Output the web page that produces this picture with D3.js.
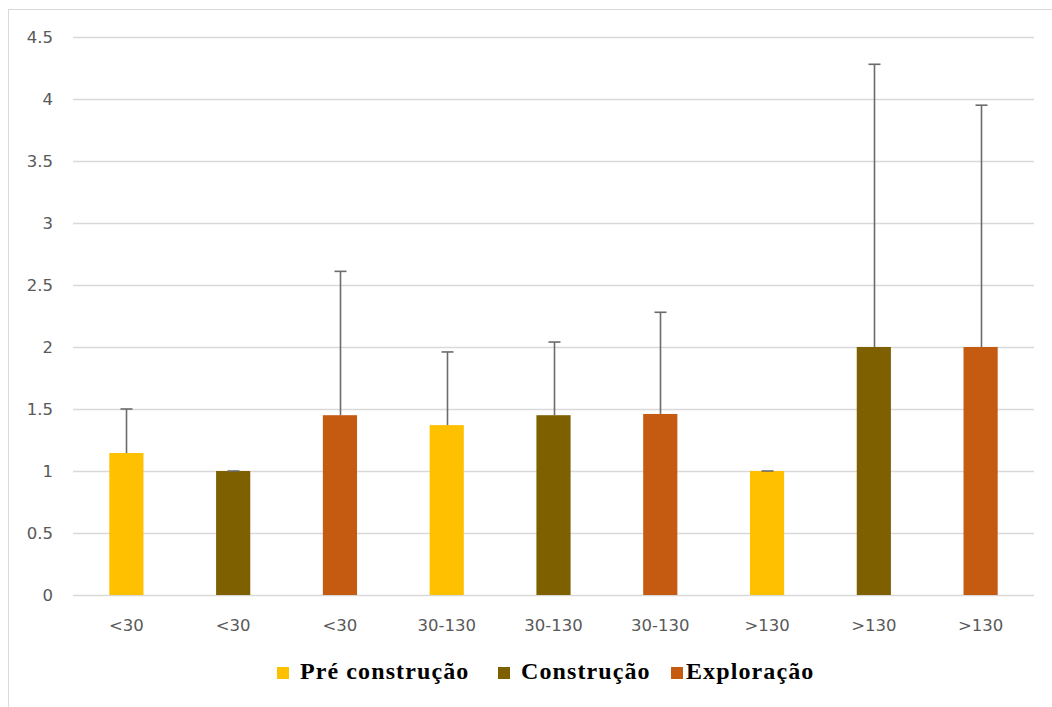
<!DOCTYPE html>
<html><head><meta charset="utf-8">
<script src="https://cdn.jsdelivr.net/npm/d3@7"></script>
<style>body{margin:0;background:#fff}svg{display:block}</style>
</head><body>
<svg id="chart" width="1052" height="707"></svg>
<script>
const categories = ["<30","<30","<30","30-130","30-130","30-130",">130",">130",">130"];
const seriesOf = ["Pré construção","Construção","Exploração","Pré construção","Construção","Exploração","Pré construção","Construção","Exploração"];
const values = [1.145, 1.0, 1.45, 1.37, 1.45, 1.46, 1.0, 2.0, 2.0];
const errorTops = [1.5, 1.0, 2.61, 1.96, 2.04, 2.28, 1.0, 4.28, 3.95];
const yTicks = [0, 0.5, 1, 1.5, 2, 2.5, 3, 3.5, 4, 4.5];
const seriesNames = ["Pré construção","Construção","Exploração"];
const seriesColors = ["#FFC000","#7F6000","#C55A11"];

const svg = d3.select("#chart");
const W = 1052, H = 707;
const plot = {left: 73, right: 1034, top: 37, bottom: 595};

// outer frame (top and left borders)
svg.append("line").attr("x1",8).attr("x2",W).attr("y1",9.5).attr("y2",9.5).attr("stroke","#d9d9d9");
svg.append("line").attr("x1",8.5).attr("x2",8.5).attr("y1",9).attr("y2",H).attr("stroke","#d9d9d9");

const x = d3.scaleBand().domain(d3.range(categories.length)).range([plot.left, plot.right]).paddingInner(0.68).paddingOuter(0.34);
const y = d3.scaleLinear().domain([0, 4.5]).range([plot.bottom, plot.top]);
const color = d3.scaleOrdinal().domain(seriesNames).range(seriesColors);

// gridlines
svg.append("g").selectAll("line").data(yTicks).join("line")
  .attr("x1", plot.left).attr("x2", plot.right)
  .attr("y1", d => Math.round(y(d)) + 0.5).attr("y2", d => Math.round(y(d)) + 0.5)
  .attr("stroke", "#d9d9d9").attr("stroke-width", 1.3);

const tickFont = "'DejaVu Sans', Verdana, sans-serif";

// y axis labels
const yAxis = d3.axisLeft(y).tickValues(yTicks).tickSize(0).tickPadding(0).tickFormat(d => String(d));
const gy = svg.append("g").attr("transform", `translate(53,0)`).call(yAxis);
gy.select(".domain").remove();
gy.selectAll("text").attr("fill","#595959").style("font-family",tickFont).style("font-size","16.5px");

// bars
svg.append("g").selectAll("rect").data(values).join("rect")
  .attr("x", (d,i) => x(i)).attr("width", x.bandwidth())
  .attr("y", d => y(d)).attr("height", d => y(0) - y(d))
  .attr("fill", (d,i) => color(seriesOf[i]));

// error bars
const eb = svg.append("g").attr("stroke","#6b6b6b").attr("stroke-width",1.6);
values.forEach((v,i) => {
  const cx = Math.round(x(i) + x.bandwidth()/2) + 0.5;
  eb.append("line").attr("x1",cx).attr("x2",cx).attr("y1",y(v)).attr("y2",y(errorTops[i]));
  eb.append("line").attr("x1",cx-6).attr("x2",cx+6).attr("y1",y(errorTops[i])).attr("y2",y(errorTops[i]));
});

// x axis labels
const xAxis = d3.axisBottom(x).tickSize(0).tickPadding(0).tickFormat(i => categories[i]);
const gx = svg.append("g").attr("transform", `translate(0,619)`).call(xAxis);
gx.select(".domain").remove();
gx.selectAll("text").attr("fill","#595959").style("font-family",tickFont).style("font-size","16.5px");

// legend
const legendItems = [{x:277},{x:498},{x:671}];
const lg = svg.append("g");
seriesNames.forEach((name,i) => {
  const g = lg.append("g").attr("transform", `translate(${legendItems[i].x},667)`);
  g.append("rect").attr("width",12).attr("height",12).attr("fill", seriesColors[i]);
  g.append("text").attr("x", i===2 ? 15 : 23).attr("y", 12)
    .attr("fill","#000").style("font-family","'Liberation Serif', 'Times New Roman', serif")
    .style("font-weight","bold").style("font-size","24px").style("letter-spacing","1.1px").text(name);
});
</script>
</body></html>
